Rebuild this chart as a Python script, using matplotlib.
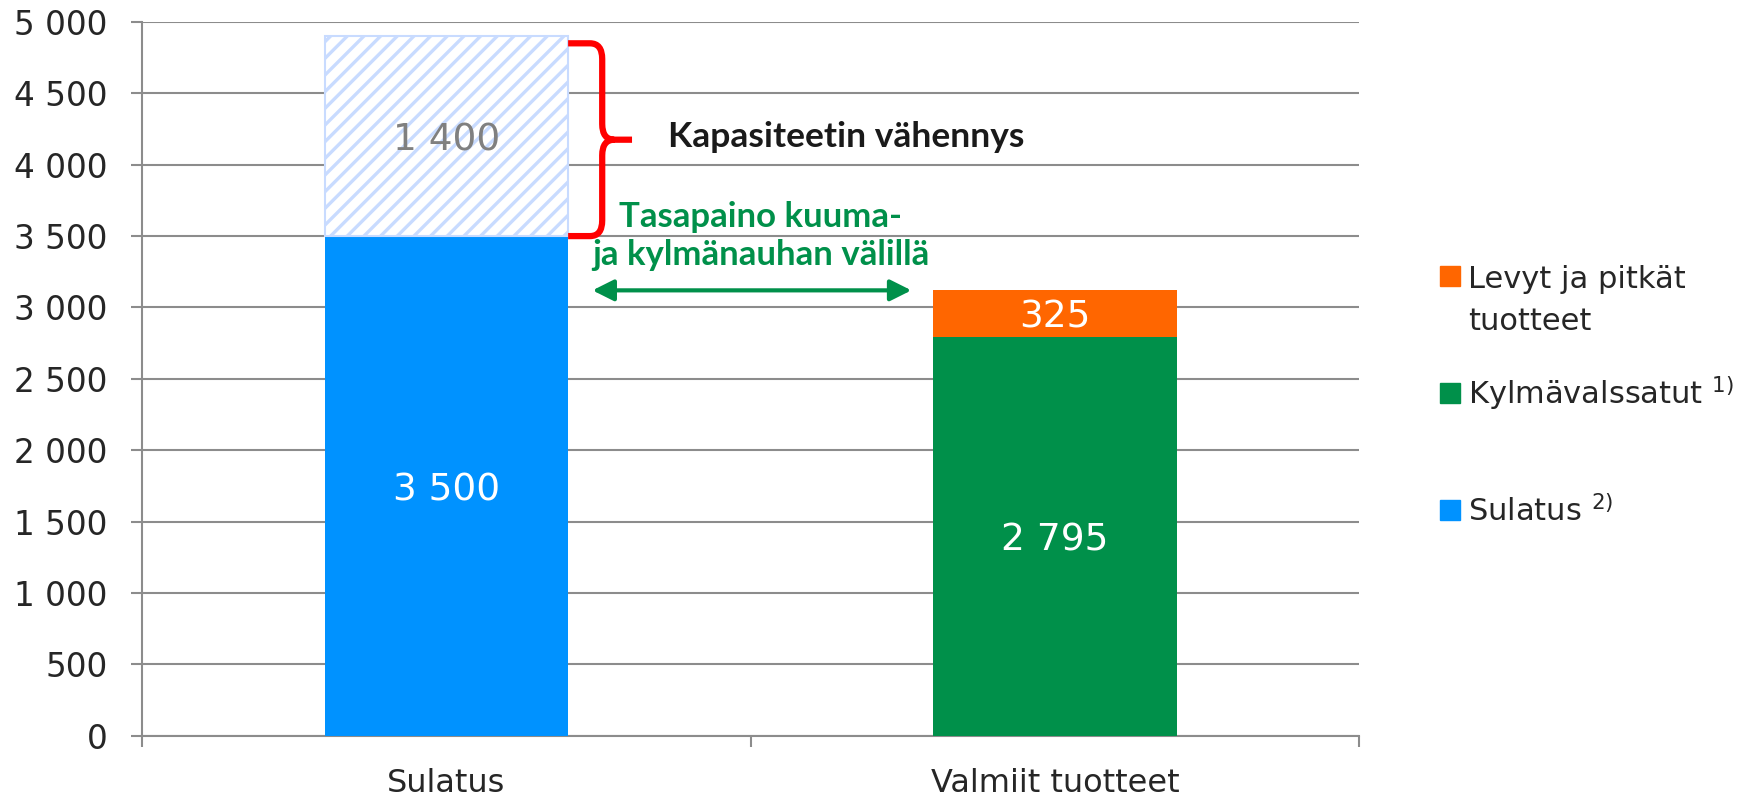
import matplotlib
matplotlib.use("Agg")
import matplotlib.pyplot as plt
from matplotlib.path import Path
from matplotlib.patches import PathPatch, Rectangle
from matplotlib.ticker import FuncFormatter, MultipleLocator

categories = ["Sulatus", "Valmiit tuotteet"]
sulatus = [3500, 0]
kapasiteetti_vahennys = [1400, 0]
kylmavalssatut = [0, 2795]
levyt = [0, 325]

legend_labels = ["Levyt ja pitkät\ntuotteet", "Kylmävalssatut $^{1)}$", "Sulatus $^{2)}$"]

blue = "#0092FF"
green = "#00904A"
orange = "#FF6600"
hatch_blue = "#C8DBFF"
grid_gray = "#8C8C8C"
text_dark = "#262626"

plt.rcParams["font.family"] = ["DejaVu Sans"]
plt.rcParams["hatch.linewidth"] = 2.4

def fmt_space(v, pos=None):
    return f"{v:,.0f}".replace(",", " ")

fig = plt.figure(figsize=(17.54, 7.99), dpi=100)
ax = fig.add_axes([0.081, 0.079, 0.694, 0.8936])

x = [0, 1]
w = 0.4

# stacked segments (zero-height ones skipped)
ax.bar(x[0], sulatus[0], w, color=blue, zorder=3)
ax.bar(x[0], kapasiteetti_vahennys[0], w, bottom=sulatus[0], facecolor="white",
       edgecolor=hatch_blue, hatch="//", linewidth=1.5, zorder=3)
ax.bar(x[1], kylmavalssatut[1], w, color=green, zorder=3)
ax.bar(x[1], levyt[1], w, bottom=kylmavalssatut[1], color=orange, zorder=3)

segments = [
    (x[0], 0, sulatus[0], "white"),
    (x[0], sulatus[0], kapasiteetti_vahennys[0], "#808080"),
    (x[1], 0, kylmavalssatut[1], "white"),
    (x[1], kylmavalssatut[1], levyt[1], "white"),
]
for xi, bot, h, col in segments:
    ax.annotate(fmt_space(h), xy=(xi, bot + h / 2), xytext=(0, -3), textcoords="offset points",
                ha="center", va="center", color=col, fontsize=27, zorder=5)

ax.set_xlim(-0.5, 1.5)
ax.set_ylim(0, 5000)
ax.yaxis.set_major_locator(MultipleLocator(500))
ax.yaxis.set_major_formatter(FuncFormatter(fmt_space))
ax.grid(axis="y", color=grid_gray, linewidth=1.5, zorder=0)

ax.set_xticks(x)
ax.set_xticklabels(categories)
ax.set_xticks([-0.5, 0.5, 1.5], minor=True)
ax.tick_params(axis="x", which="major", length=0, pad=23, labelsize=23, labelcolor=text_dark)
ax.tick_params(axis="x", which="minor", length=8, width=1.5, color=grid_gray)
ax.tick_params(axis="y", length=8, width=1.5, color=grid_gray, pad=17, labelsize=23.5, labelcolor=text_dark)

for s in ["top", "right"]:
    ax.spines[s].set_visible(False)
for s in ["left", "bottom"]:
    ax.spines[s].set_color(grid_gray)
    ax.spines[s].set_linewidth(1.5)

# curly brace for capacity reduction
T = sulatus[0] + kapasiteetti_vahennys[0] - 50
B = sulatus[0]
M = (T + B) / 2
x0, x1, x2 = 0.2, 0.256, 0.305
dx, dy = 0.02, 110
verts = [(x0, T), (x1 - dx, T), (x1, T), (x1, T - dy), (x1, M + dy), (x1, M), (x1 + dx, M),
         (x2, M),
         (x1 + dx, M), (x1, M), (x1, M - dy), (x1, B + dy), (x1, B), (x1 - dx, B), (x0, B)]
codes = [Path.MOVETO, Path.LINETO, Path.CURVE3, Path.CURVE3, Path.LINETO, Path.CURVE3, Path.CURVE3,
         Path.LINETO,
         Path.MOVETO, Path.CURVE3, Path.CURVE3, Path.LINETO, Path.CURVE3, Path.CURVE3, Path.LINETO]
ax.add_patch(PathPatch(Path(verts, codes), facecolor="none", edgecolor="#FF0000",
                       linewidth=4.5, capstyle="butt", joinstyle="round", zorder=4, clip_on=False))

bold_font = ["Lato", "DejaVu Sans"]
ax.text(0.364, 4125, "Kapasiteetin vähennys", family=bold_font, fontweight="bold",
        fontsize=25.5, color="#1A1A1A", va="baseline", ha="left")

total2 = kylmavalssatut[1] + levyt[1]
ax.text(0.516, 3564, "Tasapaino kuuma-", family=bold_font, fontweight="bold", fontsize=25,
        color=green, ha="center", va="baseline")
ax.text(0.516, 3298, "ja kylmänauhan välillä", family=bold_font, fontweight="bold", fontsize=25,
        color=green, ha="center", va="baseline")
ax.annotate("", xy=(0.24, total2), xytext=(0.764, total2),
            arrowprops=dict(arrowstyle="<|-|>", color=green, lw=3, mutation_scale=32,
                            shrinkA=0, shrinkB=0))

# legend at the right side (pixel positions from top-left)
W, H = 1754, 799
leg_colors = [orange, green, blue]
sq_centers = [276, 393, 510]
baselines = [[288, 330], [404], [521]]
for lab, col, yc, bl in zip(legend_labels, leg_colors, sq_centers, baselines):
    fig.patches.append(Rectangle((1440 / W, 1 - (yc + 10) / H), 20 / W, 20 / H,
                                 transform=fig.transFigure, color=col))
    for line, yb in zip(lab.split("\n"), bl):
        fig.text(1468 / W, 1 - yb / H, line, fontsize=22, color=text_dark, va="baseline", ha="left")

fig.savefig("out.png", dpi=100)
